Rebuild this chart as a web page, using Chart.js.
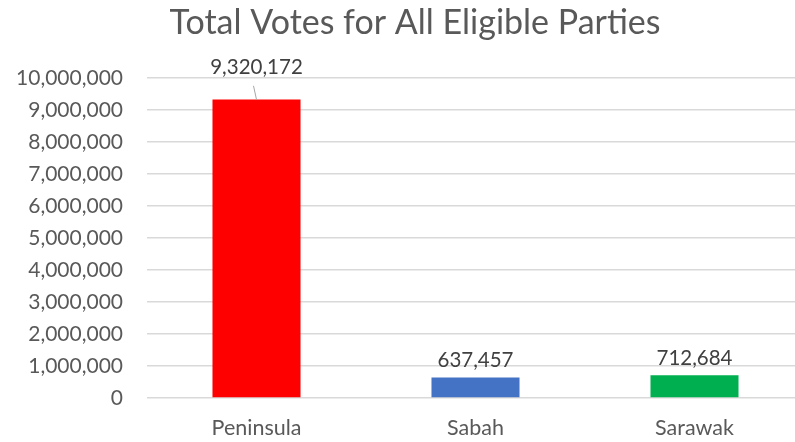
<!DOCTYPE html>
<html>
<head>
<meta charset="utf-8">
<script src="https://cdn.jsdelivr.net/npm/chart.js@4"></script>
<style>
  html, body { margin: 0; padding: 0; background: #fff; overflow: hidden; }
  canvas { display: block; }
</style>
</head>
<body>
<canvas id="myChart" width="830" height="442"></canvas>
<script>
const regions = ['Peninsula', 'Sabah', 'Sarawak'];
const votes = [9320172, 637457, 712684];
const barColors = ['#FF0000', '#4472C4', '#00B050'];
const yTicks = [0, 1000000, 2000000, 3000000, 4000000, 5000000, 6000000, 7000000, 8000000, 9000000, 10000000];

const fontFamily = 'Lato, "Open Sans", sans-serif';
const fmt = v => v.toLocaleString('en-US');

// value labels; the tall bar gets its label above the plot with a leader line
const valueLabels = {
  id: 'valueLabels',
  afterDatasetsDraw(chart) {
    const ctx = chart.ctx;
    const meta = chart.getDatasetMeta(0);
    ctx.save();
    ctx.font = '20.5px ' + fontFamily;
    ctx.fillStyle = '#404040';
    ctx.textAlign = 'center';
    ctx.textBaseline = 'middle';
    meta.data.forEach((bar, i) => {
      const v = votes[i];
      if (i === 0) {
        const ly = chart.scales.y.top - 10;
        ctx.fillText(fmt(v), bar.x, ly);
        ctx.strokeStyle = '#A6A6A6';
        ctx.lineWidth = 1;
        ctx.beginPath();
        ctx.moveTo(bar.x - 3, ly + 18);
        ctx.lineTo(bar.x, bar.y);
        ctx.stroke();
      } else {
        ctx.fillText(fmt(v), bar.x, bar.y - 17);
      }
    });
    ctx.restore();
  }
};

new Chart(document.getElementById('myChart'), {
  type: 'bar',
  data: {
    labels: regions,
    datasets: [{
      data: votes,
      backgroundColor: barColors,
      categoryPercentage: 1,
      barPercentage: 0.402
    }]
  },
  options: {
    responsive: false,
    animation: false,
    devicePixelRatio: 1,
    plugins: {
      legend: { display: false },
      tooltip: { enabled: false },
      title: {
        display: true,
        text: 'Total Votes for All Eligible Parties',
        color: '#595959',
        font: { family: fontFamily, size: 34, weight: 'normal' },
        padding: { top: 3, bottom: 34 }
      }
    },
    scales: {
      x: {
        afterFit: s => { s.height = 44; },
        grid: { display: false, drawTicks: false },
        border: { display: false },
        ticks: { color: '#595959', font: { family: fontFamily, size: 21.5 }, padding: 17 }
      },
      y: {
        min: 0,
        max: 10000000,
        afterFit: s => { s.width = 147; },
        afterBuildTicks: s => { s.ticks = yTicks.map(v => ({ value: v })); },
        grid: { color: '#D9D9D9', lineWidth: 1.5, drawTicks: false },
        border: { display: false },
        ticks: {
          color: '#595959',
          font: { family: fontFamily, size: 21 },
          padding: 24,
          callback: v => fmt(v)
        }
      },
      // empty spacer on the right (plot runs past the visible edge)
      spacer: {
        type: 'linear',
        position: 'right',
        afterFit: s => { s.width = 26; },
        grid: { display: false, drawTicks: false },
        border: { display: false },
        ticks: { display: false }
      }
    }
  },
  plugins: [valueLabels]
});
</script>
</body>
</html>
